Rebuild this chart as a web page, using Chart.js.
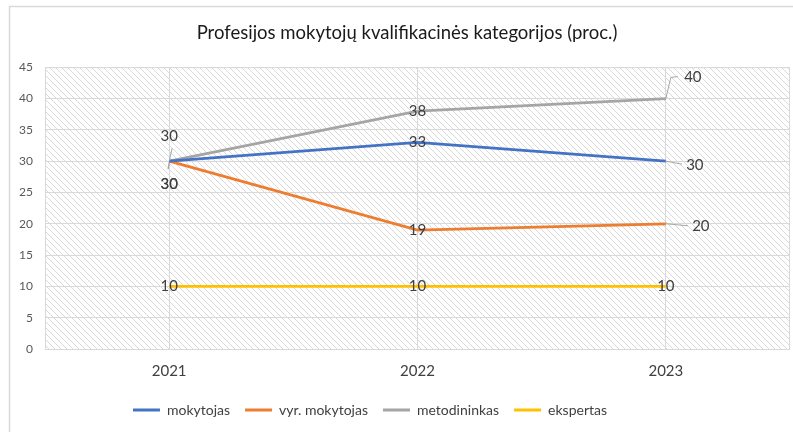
<!DOCTYPE html>
<html>
<head>
<meta charset="utf-8">
<script src="https://cdn.jsdelivr.net/npm/chart.js@4.4.1/dist/chart.umd.min.js"></script>
<style>
html,body{margin:0;padding:0;background:#fff}
#wrap{width:793px;height:432px}
</style>
</head>
<body>
<div id="wrap"><canvas id="myChart"></canvas></div>
<script>
// data
const years = ['2021', '2022', '2023']
const mokytojas = [30, 33, 30]
const vyrMokytojas = [30, 19, 20]
const metodininkas = [30, 38, 40]
const ekspertas = [10, 10, 10]
const seriesNames = ['mokytojas', 'vyr. mokytojas', 'metodininkas', 'ekspertas']

const FONT = 'Lato, "Liberation Sans", sans-serif'

// label placement: [dx, dy, leader polyline relative to the point]
const labelPlaces = [
    [[0, 23, [[0, 2], [-1, 8]]], [0, 0, null], [29, 4, [[0, 0], [16, 3]]]],
    [[0, 23, [[0, 2], [-1, 8]]], [0, 0, null], [35, 2, [[0, 0], [22, 2]]]],
    [[0, -25, [[0, 0], [3, -13]]], [0, 0, null], [27, -21, [[0, 0], [5, -21], [12, -22]]]],
    [[0, 0, null], [0, 0, null], [0, 0, null]]
]

// hatch pattern for the plot area
const makeHatch = () => {
    const c = document.createElement('canvas')
    c.width = 6; c.height = 6
    const g = c.getContext('2d')
    g.fillStyle = '#fff'
    g.fillRect(0, 0, 6, 6)
    g.strokeStyle = '#d9d9d9'
    g.lineWidth = 1
    g.beginPath()
    g.moveTo(-1, -1); g.lineTo(7, 7)
    g.moveTo(-4, 2); g.lineTo(4, 10)
    g.moveTo(2, -4); g.lineTo(10, 4)
    g.stroke()
    return g.createPattern(c, 'repeat')
}

const backdrop = {
    id: 'backdrop',
    afterLayout: (chart) => {
        // title sits a bit right of centre, legend a bit left
        chart.titleBlock.left += 12
        chart.titleBlock.right += 12
        chart.legend.left -= 25
        chart.legend.right -= 25
    },
    beforeDraw: (chart) => {
        const ctx = chart.ctx
        const a = chart.chartArea
        ctx.save()
        ctx.strokeStyle = '#d9d9d9'
        ctx.lineWidth = 1.5
        ctx.strokeRect(9.5, 6.5, 800, 440)
        ctx.fillStyle = makeHatch()
        ctx.fillRect(a.left, a.top, a.right - a.left, a.bottom - a.top)
        ctx.restore()
    },
    beforeDatasetsDraw: (chart) => {
        const ctx = chart.ctx
        const a = chart.chartArea
        ctx.save()
        ctx.strokeStyle = '#d9d9d9'
        ctx.lineWidth = 1
        ctx.strokeRect(a.left + 0.5, a.top + 0.5, a.right - a.left - 1, a.bottom - a.top)
        ctx.restore()
    }
}

const valueLabels = {
    id: 'valueLabels',
    afterDatasetsDraw: (chart) => {
        const ctx = chart.ctx
        ctx.save()
        chart.data.datasets.forEach((ds, di) => {
            const meta = chart.getDatasetMeta(di)
            meta.data.forEach((pt, i) => {
                const place = labelPlaces[di][i]
                if (place[2]) {
                    ctx.strokeStyle = '#a6a6a6'
                    ctx.lineWidth = 1
                    ctx.beginPath()
                    place[2].forEach((p, k) => {
                        if (k === 0) ctx.moveTo(pt.x + p[0], pt.y + p[1])
                        else ctx.lineTo(pt.x + p[0], pt.y + p[1])
                    })
                    ctx.stroke()
                }
                ctx.fillStyle = '#404040'
                ctx.font = '15px ' + FONT
                ctx.textAlign = 'center'
                ctx.textBaseline = 'middle'
                ctx.fillText(ds.data[i], pt.x + place[0], pt.y + place[1])
            })
        })
        ctx.restore()
    }
}

const colors = ['#4472C4', '#ED7D31', '#A5A5A5', '#FFC000']
const values = [mokytojas, vyrMokytojas, metodininkas, ekspertas]

const data = {
    labels: years,
    datasets: values.map((v, i) => ({
        label: seriesNames[i],
        data: v,
        borderColor: colors[i],
        backgroundColor: colors[i],
        borderWidth: 2.75,
        pointRadius: 0,
        tension: 0
    }))
}

const options = {
    responsive: true,
    maintainAspectRatio: false,
    animation: false,
    layout: { padding: { left: 0, right: 3, top: 0, bottom: 5 } },
    plugins: {
        title: {
            display: true,
            text: 'Profesijos mokytojų kvalifikacinės kategorijos (proc.)',
            color: '#1a1a1a',
            font: { family: FONT, size: 18.5, weight: 'normal' },
            padding: { top: 22, bottom: 23 }
        },
        legend: {
            position: 'bottom',
            labels: {
                boxWidth: 27,
                boxHeight: 3,
                color: '#404040',
                font: { family: FONT, size: 14 },
                padding: 15,
                generateLabels: (chart) => {
                    const items = Chart.defaults.plugins.legend.labels.generateLabels(chart)
                    items.forEach(it => { it.lineWidth = 0 })
                    return items
                }
            }
        },
        tooltip: { enabled: false }
    },
    scales: {
        x: {
            offset: true,
            grid: { offset: false, color: '#d9d9d9', drawTicks: false },
            border: { display: false },
            ticks: { color: '#404040', font: { family: FONT, size: 15 }, padding: 13 },
            afterFit: (s) => { s.height = 39 }
        },
        y: {
            min: 0,
            max: 45,
            ticks: { stepSize: 5, color: '#595959', font: { family: FONT, size: 12 }, padding: 12 },
            grid: { color: '#d9d9d9', drawTicks: false },
            border: { display: false },
            afterFit: (s) => { s.width = 45 }
        }
    }
}

new Chart(document.getElementById('myChart'), {
    type: 'line',
    data: data,
    options: options,
    plugins: [backdrop, valueLabels]
})
</script>
</body>
</html>
